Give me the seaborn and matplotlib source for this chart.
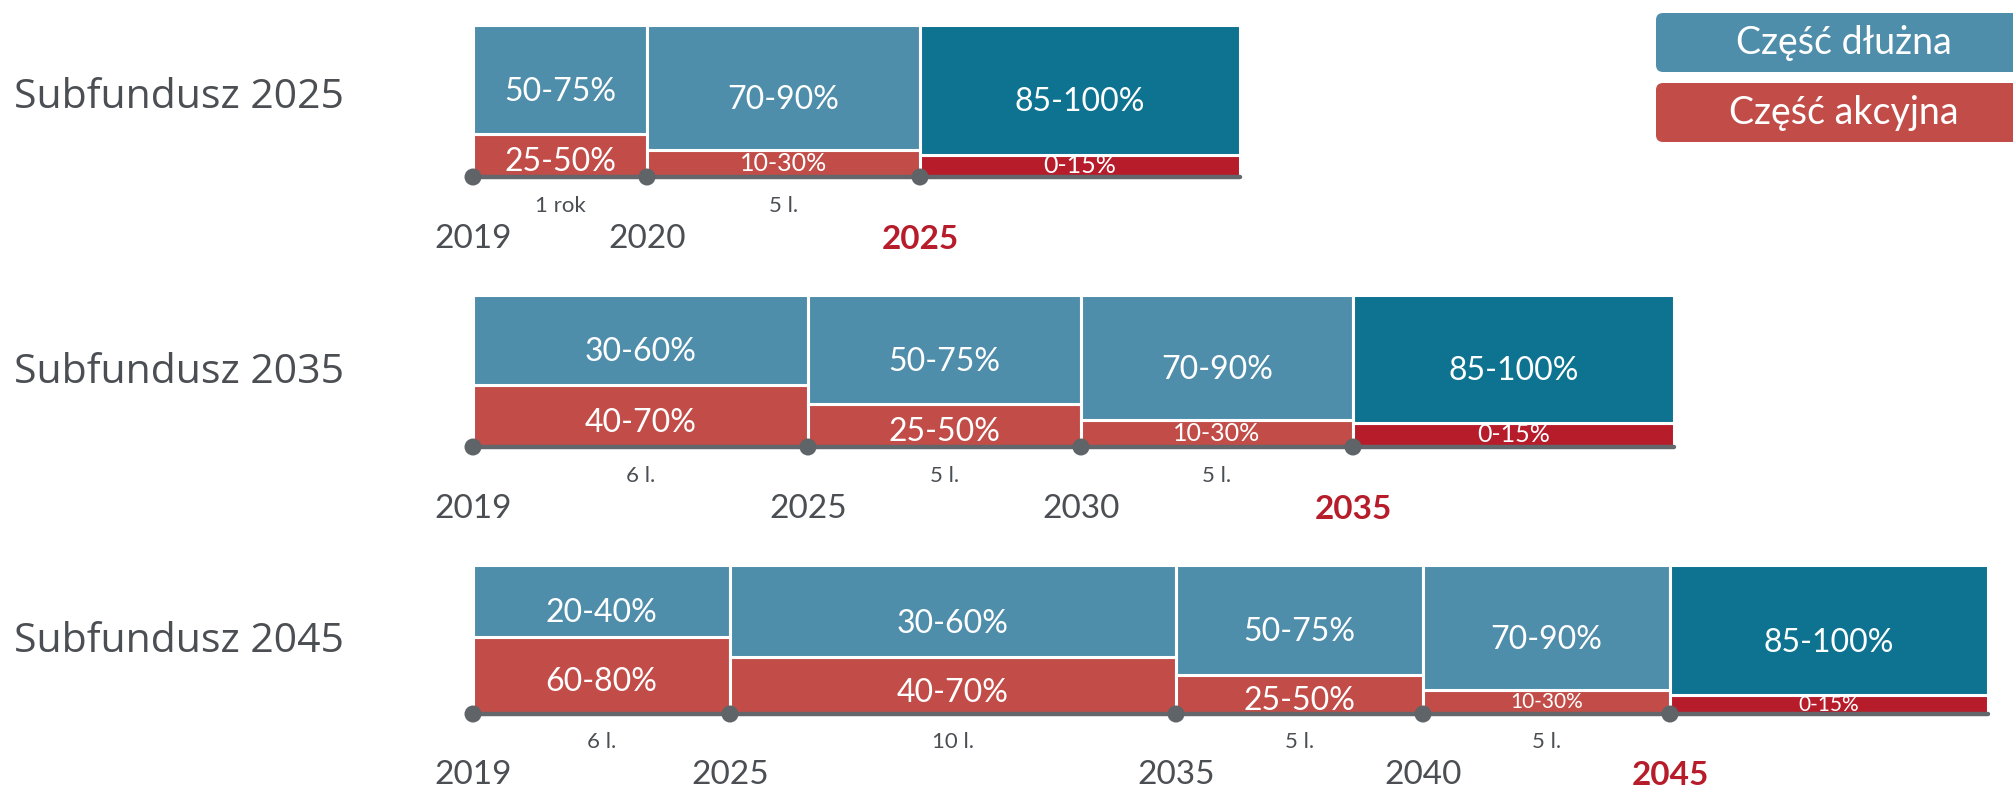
import numpy as np
import matplotlib
matplotlib.use("Agg")
import matplotlib.pyplot as plt
import matplotlib.transforms as mtransforms
from matplotlib.patches import FancyBboxPatch
import seaborn as sns

# dane
fund_names = ["Subfundusz 2025", "Subfundusz 2035", "Subfundusz 2045"]

years_2025 = ["2019", "2020", "2025"]
periods_2025 = ["1 rok", "5 l."]
spans_2025 = [174, 273, 320]
debt_2025 = ["50-75%", "70-90%", "85-100%"]
equity_2025 = ["25-50%", "10-30%", "0-15%"]
equity_share_2025 = [28.5, 18, 14.5]

years_2035 = ["2019", "2025", "2030", "2035"]
periods_2035 = ["6 l.", "5 l.", "5 l."]
spans_2035 = [335, 273, 272, 321]
debt_2035 = ["30-60%", "50-75%", "70-90%", "85-100%"]
equity_2035 = ["40-70%", "25-50%", "10-30%", "0-15%"]
equity_share_2035 = [41, 28.5, 18, 16]

years_2045 = ["2019", "2025", "2035", "2040", "2045"]
periods_2045 = ["6 l.", "10 l.", "5 l.", "5 l."]
spans_2045 = [257, 446, 247, 247, 318]
debt_2045 = ["20-40%", "30-60%", "50-75%", "70-90%", "85-100%"]
equity_2045 = ["60-80%", "40-70%", "25-50%", "10-30%", "0-15%"]
equity_share_2045 = [52, 38, 26.5, 16, 12.5]

legend_labels = ["Część dłużna", "Część akcyjna"]

# kolory
BLUE = "#4f8eab"
BLUE_DARK = "#0e7391"
RED = "#c24d48"
RED_DARK = "#b71c2b"
GRAY_LINE = "#63676b"
GRAY_DOT = "#5f6468"
GRAY_TEXT = "#4b4f53"

sns.set_theme(style="white")
plt.rcParams["font.family"] = ["Lato", "DejaVu Sans"]

W, H = 2013, 788
fig = plt.figure(figsize=(W / 100, H / 100), dpi=100)
fig.patch.set_facecolor("white")


def draw_fund(ax, years, periods, spans, debt, equity, eq_share, small_fs):
    spans = np.array(spans, dtype=float)
    eq = np.array(eq_share, dtype=float)
    n = len(spans)
    last = n - 1
    lefts = np.concatenate([[0], np.cumsum(spans)[:-1]])
    centers = lefts + spans / 2

    blue = [BLUE] * last + [BLUE_DARK]
    red = [RED] * last + [RED_DARK]
    ax.bar(lefts, eq, width=spans, align="edge", color=red,
           edgecolor="white", linewidth=2.2, zorder=2)
    ax.bar(lefts, 100 - eq, bottom=eq, width=spans, align="edge", color=blue,
           edgecolor="white", linewidth=2.2, zorder=2)

    sns.lineplot(x=[0, spans.sum()], y=[0, 0], ax=ax, color=GRAY_LINE,
                 linewidth=3.2, zorder=3)
    sns.scatterplot(x=lefts, y=np.zeros(n), ax=ax, s=150, color=GRAY_DOT,
                    edgecolor="none", zorder=4, legend=False, clip_on=False)

    for i in range(n):
        ax.annotate(debt[i], (centers[i], (eq[i] + 100) / 2), xytext=(0, -9),
                    textcoords="offset points", ha="center", va="center",
                    color="white", fontsize=23, zorder=5)
        big = eq[i] >= 25
        ax.annotate(equity[i], (centers[i], eq[i] / 2),
                    xytext=(0, -5 if big else 0),
                    textcoords="offset points", ha="center", va="center",
                    color="white", fontsize=23 if big else small_fs, zorder=5)

    for c, p in zip(centers, periods):
        ax.text(c, -19, p, ha="center", va="center", fontsize=16,
                color=GRAY_TEXT)

    for i, y in enumerate(years):
        final = i == last
        ax.text(lefts[i], -41, y, ha="center", va="center", fontsize=24,
                color=RED_DARK if final else GRAY_TEXT,
                fontweight="bold" if final else "normal")

    ax.set_xlim(0, 1540)
    ax.set_ylim(-50, 100)
    ax.axis("off")


panels = [
    (years_2025, periods_2025, spans_2025, debt_2025, equity_2025, equity_share_2025, 18, 25, 177, 98),
    (years_2035, periods_2035, spans_2035, debt_2035, equity_2035, equity_share_2035, 18, 295, 447, 373),
    (years_2045, periods_2045, spans_2045, debt_2045, equity_2045, equity_share_2045, 15, 565, 714, 642),
]

for name, (yrs, per, sp, dbt, eqt, eqs, sfs, top_px, base_px, label_px) in zip(fund_names, panels):
    h_px = 1.5 * (base_px - top_px)
    ax = fig.add_axes([473 / W, 1 - (top_px + h_px) / H, 1540 / W, h_px / H])
    draw_fund(ax, yrs, per, sp, dbt, eqt, eqs, sfs)
    fig.text(14 / W, 1 - label_px / H, name, ha="left", va="center",
             fontsize=29.5, color=GRAY_TEXT, family=["Open Sans", "DejaVu Sans"])

# legenda w prawym górnym rogu
ident = mtransforms.IdentityTransform()
for label, color, top_px in zip(legend_labels, [BLUE, RED], [13, 83]):
    box = FancyBboxPatch((1656, H - top_px - 59), 380, 59,
                         boxstyle="round,pad=0,rounding_size=7",
                         facecolor=color, edgecolor="none", transform=ident)
    fig.add_artist(box)
    fig.text(1844 / W, 1 - (top_px + 30) / H, label, ha="center", va="center",
             fontsize=27, color="white")

fig.savefig("out.png", dpi=100, facecolor="white")
